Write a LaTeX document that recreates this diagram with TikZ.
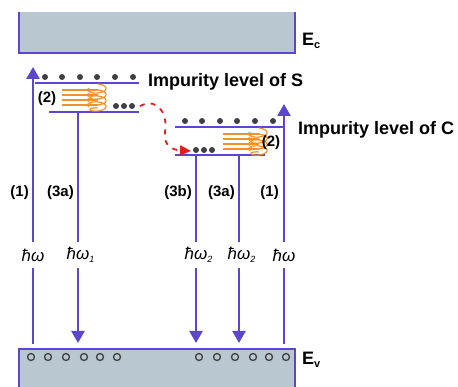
\documentclass[tikz,border=0pt]{standalone}
\usepackage{fontspec}
\setmainfont{Liberation Sans}
\usetikzlibrary{arrows.meta}
\definecolor{bandc}{RGB}{184,199,208}
\definecolor{lev}{RGB}{92,70,205}
\definecolor{orng}{RGB}{240,146,43}
\definecolor{dotc}{RGB}{64,64,64}
\definecolor{redd}{RGB}{225,30,30}
\tikzset{
  levline/.style={draw=lev,line width=2.2pt},
  trans/.style={draw=lev,line width=2.4pt},
  tipa/.style={-{Triangle[length=12pt,width=13pt]}},
  elec/.style={circle,fill=dotc,inner sep=0pt,minimum size=6pt},
  hole/.style={circle,draw=dotc,line width=1.3pt,inner sep=0pt,minimum size=7pt},
  lbl/.style={font=\bfseries\fontsize{15}{15}\selectfont,inner sep=0pt},
  big/.style={font=\bfseries\fontsize{18}{18}\selectfont,inner sep=0pt},
  hw/.style={font=\itshape\fontsize{17}{17}\selectfont,inner sep=0pt,minimum height=26pt},
  coilline/.style={draw=orng,line width=1.2pt},
}
\newcommand\coilat[2]{%
  \begin{scope}[shift={(#1,#2)}]
    \foreach \yy in {5,10,15,20}{
      \draw[coilline] (36,\yy) -- (0,\yy);
      \draw[coilline,-{Stealth[length=5pt,width=5pt]}] (31,\yy) -- (23,\yy);
    }
    \draw[coilline] plot[domain=0:1440,samples=240,smooth,variable=\t]
      ({36+8*sin(\t)},{2+\t/60-3*cos(\t)});
  \end{scope}}
\begin{document}
\begin{tikzpicture}[x=1pt,y=-1pt]
\clip (0,0) rectangle (458,387);
\fill[white] (0,0) rectangle (458,387);
% conduction band
\fill[bandc] (19,12) rectangle (295,53);
\draw[levline] (19,12) -- (19,53) -- (295,53) -- (295,12);
\node[big,anchor=west] (Ec) at (302,41) {E\textsubscript{\fontsize{11}{11}\selectfont c}};
% valence band
\fill[bandc] (19,349) rectangle (295,392);
\draw[levline] (19,392) -- (19,349) -- (295,349) -- (295,392);
\node[big,anchor=west] (Ev) at (302,360) {E\textsubscript{\fontsize{11}{11}\selectfont v}};
\foreach \x [count=\i] in {31,48,66,84,100,117,199,217,235,253,269,286}
  \node[hole] (h\i) at (\x,357) {};
% impurity level S
\draw[levline] (35,83) -- (139,83);
\draw[levline] (49,112) -- (139,112);
\foreach \x [count=\i] in {45,62,80,97,115,133}
  \node[elec] (eS\i) at (\x,77) {};
\foreach \x [count=\i] in {116,124,132}
  \node[elec] (fS\i) at (\x,106) {};
\node[big,anchor=west] (labS) at (148,82) {Impurity level of S};
\coilat{62}{85}
\node[lbl] (twoS) at (47,99) {(2)};
% impurity level C
\draw[levline] (175,127) -- (284,127);
\draw[levline] (175,155) -- (265,155);
\foreach \x [count=\i] in {185,202,220,237,255,273}
  \node[elec] (eC\i) at (\x,121) {};
\foreach \x [count=\i] in {196,204,212}
  \node[elec] (fC\i) at (\x,150) {};
\node[big,anchor=west] (labC) at (298,130) {Impurity level of C};
\coilat{223}{129}
\node[lbl] (twoC) at (271,143) {(2)};
% red transfer
\coordinate (rs) at (140,106);
\coordinate (re) at (191,151);
\draw[redd,line width=1.8pt,dash pattern=on 5pt off 6pt,-{Triangle[length=11pt,width=10pt]}]
  (rs) .. controls (160,96) and (168,118) .. (165,132)
       .. controls (163,145) and (172,150) .. (re);
% transitions
\coordinate (a1b) at (33,344);  \coordinate (a1t) at (33,67);
\coordinate (a2t) at (78,112);  \coordinate (a2b) at (78,343);
\coordinate (a3t) at (196,155); \coordinate (a3b) at (196,343);
\coordinate (a4t) at (239,155); \coordinate (a4b) at (239,343);
\coordinate (a5b) at (284,344); \coordinate (a5t) at (284,104);
\node[hw] (w1) at (33,255) {ħω};
\node[hw] (w2) at (78,255) {ħω\rlap{\textsubscript{\fontsize{9}{9}\selectfont 1}}};
\node[hw] (w3) at (196,255) {ħω\rlap{\textsubscript{\fontsize{9}{9}\selectfont 2}}};
\node[hw] (w4) at (239,255) {ħω\rlap{\textsubscript{\fontsize{9}{9}\selectfont 2}}};
\node[hw] (w5) at (284,255) {ħω};
\draw[trans] (a1b) -- (w1);
\draw[trans,tipa] (w1) -- (a1t);
\draw[trans] (a2t) -- (w2);
\draw[trans,tipa] (w2) -- (a2b);
\draw[trans] (a3t) -- (w3);
\draw[trans,tipa] (w3) -- (a3b);
\draw[trans] (a4t) -- (w4);
\draw[trans,tipa] (w4) -- (a4b);
\draw[trans] (a5b) -- (w5);
\draw[trans,tipa] (w5) -- (a5t);
\node[lbl,anchor=east] (n1) at (29,193) {(1)};
\node[lbl,anchor=east] (n2) at (74,193) {(3a)};
\node[lbl,anchor=east] (n3) at (192,193) {(3b)};
\node[lbl,anchor=east] (n4) at (235,193) {(3a)};
\node[lbl,anchor=east] (n5) at (279,193) {(1)};
\end{tikzpicture}
\end{document}
